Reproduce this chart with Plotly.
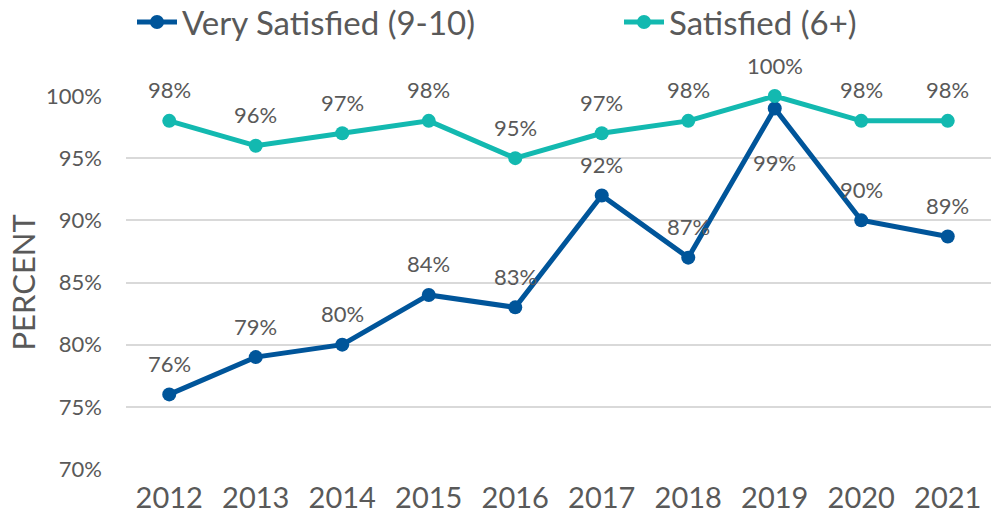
import plotly.graph_objects as go

years = ["2012", "2013", "2014", "2015", "2016", "2017", "2018", "2019", "2020", "2021"]
very_satisfied = [76, 79, 80, 84, 83, 92, 87, 99, 90, 88.7]
very_labels = ["76%", "79%", "80%", "84%", "83%", "92%", "87%", "99%", "90%", "89%"]
very_label_below = [False, False, False, False, False, False, False, True, False, False]
satisfied = [98, 96, 97, 98, 95, 97, 98, 100, 98, 98]
sat_labels = ["98%", "96%", "97%", "98%", "95%", "97%", "98%", "100%", "98%", "98%"]
y_ticks = [70, 75, 80, 85, 90, 95, 100]
y_tick_labels = ["70%", "75%", "80%", "85%", "90%", "95%", "100%"]

BLUE = "#00559A"
TEAL = "#13B9B0"
TXT = "#595959"
FONT = "Lato"

W, H = 994, 526
L, R, T, B = 126, 3, 96, 57
PW = W - L - R
PH = H - T - B

fig = go.Figure()
fig.add_trace(go.Scatter(
    x=years, y=very_satisfied, mode="lines+markers", name="Very Satisfied (9-10)",
    line=dict(color=BLUE, width=5), marker=dict(color=BLUE, size=14),
    cliponaxis=False, legend="legend",
))
fig.add_trace(go.Scatter(
    x=years, y=satisfied, mode="lines+markers", name="Satisfied (6+)",
    line=dict(color=TEAL, width=5), marker=dict(color=TEAL, size=14),
    cliponaxis=False, legend="legend2",
))

annotations = []
for i, (y, t, below) in enumerate(zip(very_satisfied, very_labels, very_label_below)):
    annotations.append(dict(x=i, y=y, text=t, showarrow=False, xref="x", yref="y",
                            yshift=-54 if below else 31,
                            font=dict(family=FONT, size=22, color=TXT)))
for i, (y, t) in enumerate(zip(satisfied, sat_labels)):
    annotations.append(dict(x=i, y=y, text=t, showarrow=False, xref="x", yref="y",
                            yshift=31, font=dict(family=FONT, size=22, color=TXT)))
annotations.append(dict(x=-(L - 22) / PW, y=0.5, xref="paper", yref="paper",
                        xanchor="center", yanchor="middle",
                        text="PERCENT", textangle=-90, showarrow=False,
                        font=dict(family=FONT, size=31, color=TXT)))

leg_common = dict(orientation="h", xanchor="left", yanchor="middle",
                  y=1 + (T - 22) / PH,
                  font=dict(family=FONT, size=33, color=TXT),
                  bgcolor="rgba(0,0,0,0)", itemwidth=40)

fig.update_layout(
    width=W, height=H,
    margin=dict(l=L, r=R, t=T, b=B, autoexpand=False),
    paper_bgcolor="white", plot_bgcolor="white",
    font=dict(family=FONT, color=TXT),
    showlegend=True,
    legend=dict(x=(132 - L) / PW, **leg_common),
    legend2=dict(x=(619 - L) / PW, **leg_common),
    xaxis=dict(type="category", range=[-0.5, 9.5], showgrid=False, zeroline=False,
               showline=False, ticks="", tickfont=dict(family=FONT, size=29, color=TXT),
               ticklabelstandoff=9),
    yaxis=dict(range=[70, 100], tickvals=y_ticks, ticktext=y_tick_labels,
               showgrid=True, gridcolor="#D9D9D9", gridwidth=2, zeroline=False,
               showline=False, ticks="", tickfont=dict(family=FONT, size=22, color=TXT),
               ticklabelstandoff=23),
    annotations=annotations,
)

fig.write_html("out.html", config={"displayModeBar": False},
               post_script="document.body.style.margin='0';")
